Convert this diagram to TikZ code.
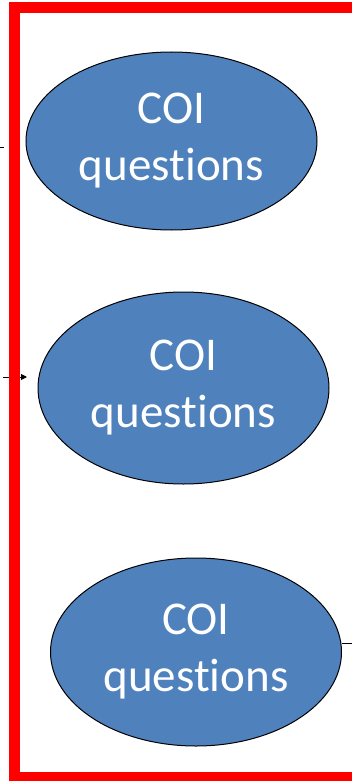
\documentclass[tikz,border=0pt]{standalone}
\usepackage{fontspec}
\setmainfont[RawFeature=-liga]{Carlito}
\usetikzlibrary{shapes.geometric,arrows.meta}
\definecolor{coiblue}{RGB}{79,129,189}

\begin{document}
\begin{tikzpicture}[x=1pt, y=-1pt,
  coi/.style={
    ellipse, draw=black, line width=1pt, fill=coiblue, text=white,
    inner sep=0pt, minimum width=291pt, align=center,
    font=\fontsize{47}{57}\selectfont
  },
  link/.style={
    line width=1pt, -{Triangle[length=6pt,width=6pt]}
  }
  ]
  \useasboundingbox (0,0) rectangle (352,781);
  \node[coi, minimum height=178pt] (q1) at (171.5,141) {COI\\questions};
  \node[coi, minimum height=192pt] (q2) at (183.5,388) {COI\\questions};
  \node[coi, minimum height=188pt] (q3) at (196,652) {COI\\questions};
  % loose ends
  \coordinate (in1) at (-20,147);
  \coordinate (in1end) at (4,147);
  \coordinate (in2) at (3,377);
  \coordinate (in2end) at (27,377);
  \coordinate (out3) at (370,643);
  \draw[line width=1pt] (in1) -- (in1end);
  \draw[link] (in2) -- (in2end);
  \draw[line width=1pt] (out3 -| q3.east) -- (out3);
  % frame
  \draw[red, line width=11pt] (14.5,7.5) rectangle (380,777.5);
\end{tikzpicture}
\end{document}
